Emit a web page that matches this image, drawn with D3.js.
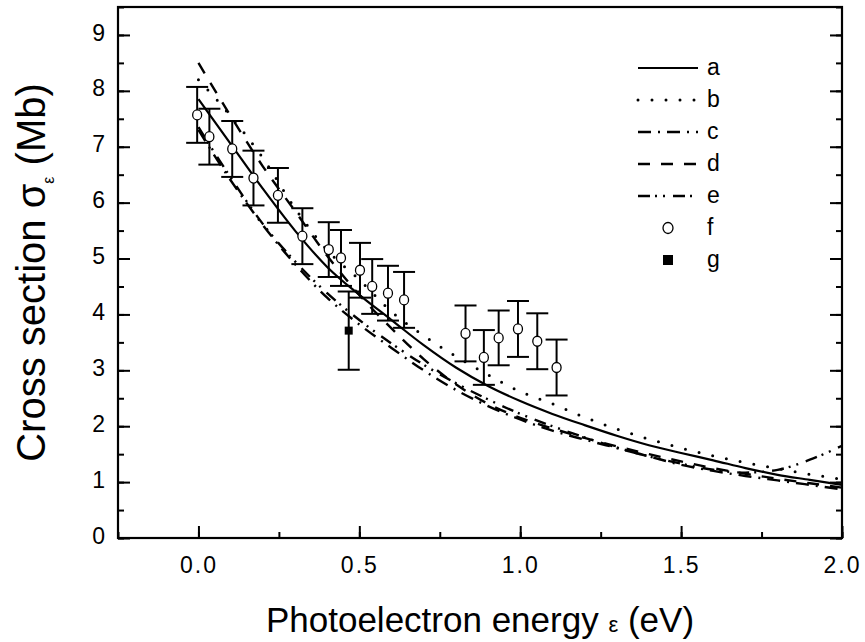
<!DOCTYPE html>
<html>
<head>
<meta charset="utf-8">
<script src="https://cdn.jsdelivr.net/npm/d3@7"></script>
<style>
  body { margin: 0; background: #fff; }
  svg { display: block; font-family: "Liberation Sans", Arial, sans-serif; }
</style>
</head>
<body>
<svg id="chart" width="865" height="642"></svg>
<script>
// energy grid of the model curves (eV)
const energy = [0, 0.1, 0.2, 0.3, 0.4, 0.5, 0.6, 0.7, 0.8, 0.9, 1.0,
                1.1, 1.2, 1.3, 1.4, 1.5, 1.6, 1.7, 1.8, 1.9, 2.0];

// model curves a-e (Mb)
const curveA = [7.85, 7.05, 6.25, 5.5, 4.85, 4.35, 3.9, 3.45, 3.05, 2.72, 2.45,
                2.22, 2.02, 1.83, 1.66, 1.52, 1.39, 1.25, 1.13, 1.04, 0.95];
const curveB = [8.2, 7.55, 6.8, 5.9, 5.15, 4.62, 4.05, 3.62, 3.25, 2.92, 2.62,
                2.4, 2.16, 1.95, 1.77, 1.61, 1.47, 1.35, 1.24, 1.14, 1.05];
const curveC = [7.3, 6.4, 5.6, 4.9, 4.3, 3.82, 3.4, 3.0, 2.65, 2.36, 2.12,
                1.92, 1.76, 1.61, 1.46, 1.31, 1.2, 1.11, 1.03, 0.95, 0.87];
const curveD = [8.5, 7.55, 6.65, 5.85, 5.05, 4.35, 3.75, 3.2, 2.75, 2.4, 2.15,
                1.96, 1.79, 1.64, 1.5, 1.37, 1.25, 1.15, 1.06, 0.98, 0.9];
const curveE = [7.35, 6.45, 5.62, 4.95, 4.38, 3.9, 3.48, 3.1, 2.77, 2.48, 2.22,
                2.0, 1.8, 1.62, 1.46, 1.33, 1.22, 1.17, 1.22, 1.4, 1.65];

// experiment f (open circles) with error bars
const fEnergy = [-0.004, 0.034, 0.105, 0.171, 0.247, 0.323, 0.405, 0.443, 0.502,
                 0.540, 0.589, 0.639, 0.830, 0.887, 0.933, 0.993, 1.053, 1.113];
const fSigma  = [7.57, 7.18, 6.96, 6.44, 6.13, 5.40, 5.16, 5.01, 4.79,
                 4.50, 4.38, 4.26, 3.66, 3.23, 3.58, 3.74, 3.52, 3.05];
const fError  = [0.5, 0.5, 0.5, 0.49, 0.49, 0.5, 0.49, 0.5, 0.49,
                 0.49, 0.49, 0.5, 0.5, 0.49, 0.49, 0.5, 0.5, 0.5];

// experiment g (filled square)
const gEnergy = [0.467];
const gSigma  = [3.71];
const gError  = [0.7];

const xTicks = [0, 0.5, 1.0, 1.5, 2.0];
const yTicks = [0, 1, 2, 3, 4, 5, 6, 7, 8, 9];
const legendLabels = ["a", "b", "c", "d", "e", "f", "g"];

const svg = d3.select("#chart");
const mLeft = 118, mRight = 842, mTop = 7, mBottom = 538;

const x = d3.scaleLinear().domain([-0.25, 2.0]).range([mLeft, mRight]);
const y = d3.scaleLinear().domain([0, 9.5]).range([mBottom, mTop]);

// line styles
const styles = {
  a: { dash: null, width: 2.2, cap: "butt" },
  b: { dash: "0,14", width: 3, cap: "round" },
  c: { dash: "13,7,2,7", width: 2.4, cap: "butt" },
  d: { dash: "12,11", width: 2.4, cap: "butt" },
  e: { dash: "12,5,2,6,2,8", width: 2.4, cap: "butt" }
};

const curves = [
  { key: "a", values: curveA },
  { key: "b", values: curveB },
  { key: "c", values: curveC },
  { key: "d", values: curveD },
  { key: "e", values: curveE }
];

// axes
const axisG = svg.append("g");

const yMinor = d3.range(0, 9.51, 0.5);
const xMinor = d3.range(-0.25, 2.01, 0.25);

axisG.append("g")
  .attr("transform", `translate(${mLeft},0)`)
  .call(d3.axisLeft(y).tickValues(yMinor).tickSize(-6).tickFormat(""))
  .call(g => g.select(".domain").remove());
axisG.append("g")
  .attr("transform", `translate(${mLeft},0)`)
  .call(d3.axisLeft(y).tickValues(yTicks).tickSize(-12).tickFormat(d3.format("d")))
  .call(g => g.select(".domain").remove())
  .call(g => g.selectAll("text").attr("font-size", 23).attr("dy", "0.22em").attr("fill", "#000")
    .attr("x", -13));
axisG.append("g")
  .attr("transform", `translate(${mRight},0)`)
  .call(d3.axisRight(y).tickValues(yMinor).tickSize(-6).tickFormat(""))
  .call(g => g.select(".domain").remove());
axisG.append("g")
  .attr("transform", `translate(${mRight},0)`)
  .call(d3.axisRight(y).tickValues(yTicks).tickSize(-12).tickFormat(""))
  .call(g => g.select(".domain").remove());

axisG.append("g")
  .attr("transform", `translate(0,${mBottom})`)
  .call(d3.axisBottom(x).tickValues(xMinor).tickSize(-6).tickFormat(""))
  .call(g => g.select(".domain").remove());
axisG.append("g")
  .attr("transform", `translate(0,${mBottom})`)
  .call(d3.axisBottom(x).tickValues(xTicks).tickSize(-12).tickFormat(d3.format(".1f")))
  .call(g => g.select(".domain").remove())
  .call(g => g.selectAll("text").attr("font-size", 23).attr("fill", "#000")
    .attr("y", 35).attr("dy", 0).attr("letter-spacing", 2));

axisG.selectAll("line").attr("stroke", "#000").attr("stroke-width", 2);

svg.append("rect")
  .attr("x", mLeft).attr("y", mTop)
  .attr("width", mRight - mLeft).attr("height", mBottom - mTop)
  .attr("fill", "none").attr("stroke", "#000").attr("stroke-width", 2.2);

// axis titles
svg.append("text")
  .attr("x", (mLeft + mRight) / 2).attr("y", 632)
  .attr("text-anchor", "middle").attr("font-size", 35)
  .call(t => t.append("tspan").text("Photoelectron energy "))
  .call(t => t.append("tspan").attr("font-size", 22).text("ε"))
  .call(t => t.append("tspan").text(" (eV)"));

svg.append("text")
  .attr("transform", `translate(45,${(mTop + mBottom) / 2}) rotate(-90)`)
  .attr("text-anchor", "middle").attr("font-size", 40)
  .call(t => t.append("tspan").text("Cross section σ"))
  .call(t => t.append("tspan").attr("font-size", 16).attr("dy", 9).text("ε"))
  .call(t => t.append("tspan").attr("dy", -9).text(" (Mb)"));

// model curves
const line = d3.line()
  .x(d => x(d[0]))
  .y(d => y(d[1]))
  .curve(d3.curveMonotoneX);

svg.append("g")
  .attr("fill", "none")
  .attr("stroke", "#000")
  .selectAll("path")
  .data(curves)
  .join("path")
  .attr("d", c => line(energy.map((e, i) => [e, c.values[i]])))
  .attr("stroke-width", c => styles[c.key].width)
  .attr("stroke-dasharray", c => styles[c.key].dash)
  .attr("stroke-linecap", c => styles[c.key].cap);

// error bars
const bars = fEnergy.map((e, i) => ({ e, s: fSigma[i], err: fError[i] }))
  .concat(gEnergy.map((e, i) => ({ e, s: gSigma[i], err: gError[i] })));

const eb = svg.append("g").attr("stroke", "#000").attr("stroke-width", 2);
eb.selectAll("line.v").data(bars).join("line").attr("class", "v")
  .attr("x1", d => x(d.e)).attr("x2", d => x(d.e))
  .attr("y1", d => y(d.s + d.err)).attr("y2", d => y(d.s - d.err));
eb.selectAll("line.t").data(bars).join("line").attr("class", "t")
  .attr("x1", d => x(d.e) - 11).attr("x2", d => x(d.e) + 11)
  .attr("y1", d => y(d.s + d.err)).attr("y2", d => y(d.s + d.err));
eb.selectAll("line.b").data(bars).join("line").attr("class", "b")
  .attr("x1", d => x(d.e) - 11).attr("x2", d => x(d.e) + 11)
  .attr("y1", d => y(d.s - d.err)).attr("y2", d => y(d.s - d.err));

// markers
svg.append("g").selectAll("ellipse")
  .data(fEnergy.map((e, i) => [e, fSigma[i]]))
  .join("ellipse")
  .attr("cx", d => x(d[0])).attr("cy", d => y(d[1]))
  .attr("rx", 4.5).attr("ry", 5)
  .attr("fill", "#fff").attr("stroke", "#000").attr("stroke-width", 1.3);

svg.append("g").selectAll("rect")
  .data(gEnergy.map((e, i) => [e, gSigma[i]]))
  .join("rect")
  .attr("x", d => x(d[0]) - 4).attr("y", d => y(d[1]) - 4)
  .attr("width", 8).attr("height", 8).attr("fill", "#000");

// legend
const legendX = 638, legendY = 68, legendStep = 32;
const leg = svg.append("g");
legendLabels.forEach((lab, i) => {
  const ly = legendY + i * legendStep;
  if (styles[lab]) {
    leg.append("line")
      .attr("x1", legendX).attr("x2", legendX + 60)
      .attr("y1", ly).attr("y2", ly)
      .attr("stroke", "#000")
      .attr("stroke-width", styles[lab].width)
      .attr("stroke-dasharray", styles[lab].dash)
      .attr("stroke-linecap", styles[lab].cap);
  } else if (lab === "f") {
    leg.append("ellipse").attr("cx", legendX + 30).attr("cy", ly)
      .attr("rx", 5).attr("ry", 5.5)
      .attr("fill", "#fff").attr("stroke", "#000").attr("stroke-width", 1.3);
  } else {
    leg.append("rect").attr("x", legendX + 25).attr("y", ly - 5)
      .attr("width", 10).attr("height", 10).attr("fill", "#000");
  }
  leg.append("text")
    .attr("x", legendX + 69).attr("y", ly + 7)
    .attr("font-size", 23)
    .text(lab);
});
</script>
</body>
</html>
